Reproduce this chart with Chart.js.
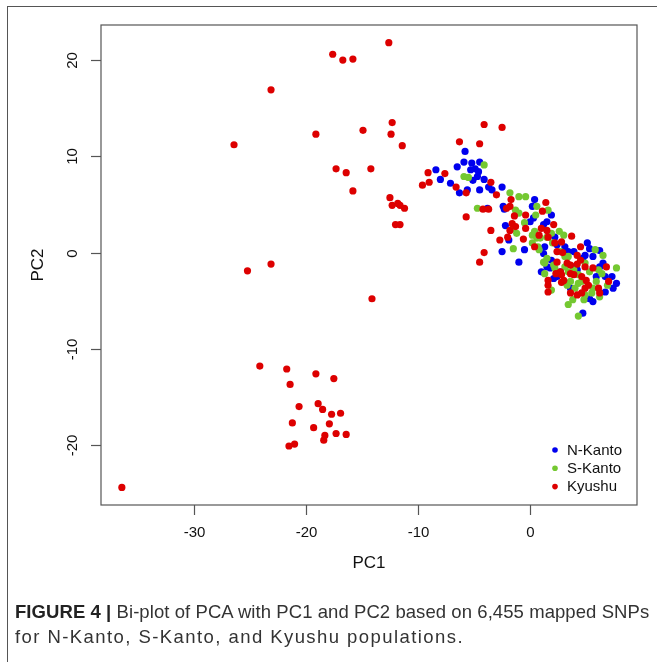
<!DOCTYPE html>
<html>
<head>
<meta charset="utf-8">
<script src="https://cdn.jsdelivr.net/npm/chart.js@4.4.1/dist/chart.umd.min.js"></script>
<style>
  html, body { margin: 0; padding: 0; background: #fff; }
  #wrap { position: relative; width: 657px; height: 662px; overflow: hidden; }
  #c { position: absolute; left: 0; top: 0; }
  #frame { position: absolute; left: 7px; top: 6px; width: 700px; height: 700px;
           border-top: 1.5px solid #555; border-left: 1.5px solid #555; box-sizing: border-box; }
  .cap { position: absolute; left: 15px; font-family: "Liberation Sans", Arial, sans-serif;
         font-size: 18.5px; color: #333; white-space: nowrap; }
  .cap b { color: #222; }
</style>
</head>
<body>
<div id="wrap">
  <canvas id="c" width="657" height="662"></canvas>
  <div id="frame"></div>
  <div class="cap" id="cap1" style="top:601px;"><b>FIGURE 4 |</b> Bi-plot of PCA with PC1 and PC2 based on 6,455 mapped SNPs</div>
  <div class="cap" id="cap2" style="top:626px;">for N-Kanto, S-Kanto, and Kyushu populations.</div>
</div>
<script>
// ---------------- data ----------------
const seriesNames = ["N-Kanto", "S-Kanto", "Kyushu"];
const xTicks = [-30, -20, -10, 0];
const yTicks = [-20, -10, 0, 10, 20];
const xLabel = "PC1";
const yLabel = "PC2";

const nKantoX = [-5.8,-5.9,-5.2,-4.5,-4.9,-4.6,-5.3,-4.7,-5.1,-6.5,-8.4,-8.0,-7.1,-6.3,-5.6,-4.1,-4.5,-3.7,-3.4,-2.5,-2.4,-2.3,-3.8,0.4,0.2,1.9,-2.2,-1.9,-2.5,-1.0,-0.5,0.3,0.0,1.2,1.5,1.3,1.2,2.2,2.4,3.1,3.4,1.0,1.8,2.1,3.9,4.9,4.7,5.1,5.3,5.6,6.2,6.5,6.2,6.7,7.3,7.7,7.4,6.7,5.6,5.3,4.7,3.3,3.6,2.4,2.7,3.9,4.2,5.9,1.9,1.5];
const nKantoY = [10.5,9.4,9.3,9.4,8.7,8.4,8.6,7.9,7.5,8.9,8.6,7.6,7.2,6.2,6.5,7.6,6.5,6.8,6.5,6.8,4.8,4.5,4.6,5.5,4.8,3.9,2.8,1.3,0.1,-1.0,0.3,3.6,3.2,2.9,3.2,0.6,-0.1,1.6,0.8,0.6,0.1,-2.0,-1.6,-2.7,0.1,-0.3,-0.6,1.0,0.4,-0.4,0.2,-1.1,-1.5,-2.5,-2.5,-3.2,-3.7,-4.1,-5.1,-4.8,-6.3,-3.2,-3.7,-2.5,-2.0,-1.5,-1.8,-2.5,-0.8,-1.5];

const sKantoX = [-4.1,-5.9,-5.5,-1.8,-0.4,-4.7,0.6,-1.3,-1.0,1.6,0.5,-0.5,-1.5,-1.2,-1.5,0.2,0.4,0.9,1.5,1.9,2.6,3.0,0.8,2.0,1.5,1.2,1.3,1.3,2.1,2.2,3.1,3.4,3.1,3.4,3.9,4.3,4.3,4.6,3.3,3.6,4.0,4.9,5.5,5.6,5.8,6.5,6.1,6.4,6.9,6.2,7.7,3.8,3.4,4.8,4.3,1.9,2.7,4.9,5.3,5.9,0.6,0.7,0.2,-1.0];
const sKantoY = [9.1,7.9,7.8,6.2,5.8,4.6,4.8,4.4,4.1,4.4,3.9,3.1,2.5,2.0,0.4,1.8,2.2,1.5,1.6,2.0,2.2,1.8,0.3,1.0,-0.6,-1.0,-1.1,-2.2,-1.3,-1.6,-0.4,-0.4,-1.5,-2.0,-1.8,-2.3,-3.2,-3.0,-3.4,-3.0,-3.7,-4.4,-4.2,-3.7,0.3,-0.3,-1.8,-2.2,-3.4,-4.6,-1.6,-4.9,-5.4,-4.9,-6.6,-3.9,0.1,-1.1,-2.0,-3.0,1.5,0.6,1.0,5.8];

const kyushuX = [-12.6,-17.6,-16.7,-15.8,-23.1,-26.4,-19.1,-14.9,-12.3,-12.4,-11.4,-17.3,-16.4,-14.2,-15.8,-12.5,-12.3,-11.8,-11.6,-11.2,-12.0,-11.6,-25.2,-23.1,-14.1,-24.1,-21.7,-19.1,-21.4,-17.5,-20.6,-18.9,-18.5,-17.7,-16.9,-21.2,-17.9,-19.3,-17.3,-18.3,-16.4,-18.4,-21.0,-21.5,-36.4,-4.1,-2.5,-6.3,-4.5,-9.1,-7.6,-9.6,-9.0,-6.6,-5.7,-3.5,-3.0,-4.2,-3.7,-5.7,-3.5,-2.7,-4.1,-4.5,-1.7,-2.1,-1.8,-1.4,-0.4,1.4,1.1,-1.6,-1.3,-1.8,-0.4,-2.0,-0.6,0.4,0.8,1.5,1.6,2.1,1.0,2.8,2.2,3.7,4.5,2.4,2.9,2.4,3.3,3.6,4.2,4.9,2.7,3.6,3.9,4.6,5.0,3.0,2.8,1.6,1.6,1.6,3.6,4.2,4.6,4.9,5.2,6.1,6.2,5.6,6.8,7.0,4.5,4.2,2.3,2.8];
const kyushuY = [21.8,20.6,20.0,20.1,16.9,11.2,12.3,12.7,13.5,12.3,11.1,8.7,8.3,8.7,6.4,5.7,4.9,5.1,4.9,4.6,2.9,2.9,-1.9,-1.2,-4.8,-11.8,-12.1,-12.6,-13.7,-13.1,-16.0,-15.7,-16.3,-16.8,-16.7,-17.7,-17.8,-18.2,-18.8,-19.0,-18.9,-19.5,-19.9,-20.1,-24.4,13.3,13.0,11.5,11.3,8.3,8.2,7.0,7.3,6.8,6.2,7.3,6.0,4.5,4.5,3.7,2.3,1.3,0.0,-1.0,5.5,4.6,4.8,3.8,3.9,5.2,4.3,3.0,2.7,2.3,2.5,1.6,1.4,0.6,1.8,2.3,1.6,2.9,2.5,1.1,1.0,1.7,0.6,0.1,0.0,-1.0,-1.1,-1.3,-1.2,-1.5,-2.0,-2.2,-2.3,-2.5,-2.9,-2.9,-3.1,-2.9,-3.4,-4.1,-4.2,-4.4,-4.2,-3.7,-3.4,-3.7,-4.2,-1.6,-1.5,-3.0,-0.8,-0.3,-2.2,-2.3];

const colors = ["#0000EE", "#74C831", "#DD0000"];
// --------------------------------------

// fit caption lines to the widths seen in the reference
[["cap1", 634], ["cap2", 449]].forEach(([id, w]) => {
  const el = document.getElementById(id);
  const n = el.textContent.length;
  const nat = el.getBoundingClientRect().width;
  el.style.letterSpacing = ((w - nat) / n).toFixed(2) + "px";
});

const toPts = (xs, ys) => xs.map((x, i) => ({x: x, y: ys[i]}));

const FONT = '"Liberation Sans", Arial, sans-serif';
const rPlugin = {
  id: 'rstyle',
  afterDatasetsDraw(chart) {
    const ctx = chart.ctx;
    const a = chart.chartArea;
    const xs = chart.scales.x, ys = chart.scales.y;
    ctx.save();
    ctx.strokeStyle = '#555';
    ctx.lineWidth = 1.2;
    ctx.strokeRect(a.left, a.top, a.right - a.left, a.bottom - a.top);
    ctx.fillStyle = '#111';
    ctx.font = '15px ' + FONT;
    ctx.textAlign = 'center';
    ctx.textBaseline = 'middle';
    xTicks.forEach(v => {
      const px = Math.round(xs.getPixelForValue(v)) + 0.5;
      ctx.beginPath(); ctx.moveTo(px, a.bottom); ctx.lineTo(px, a.bottom + 10); ctx.stroke();
      ctx.fillText(String(v), px, a.bottom + 28);
    });
    yTicks.forEach(v => {
      const py = Math.round(ys.getPixelForValue(v)) + 0.5;
      ctx.beginPath(); ctx.moveTo(a.left, py); ctx.lineTo(a.left - 10, py); ctx.stroke();
      ctx.save();
      ctx.translate(a.left - 28, py);
      ctx.rotate(-Math.PI / 2);
      ctx.fillText(String(v), 0, 0);
      ctx.restore();
    });
    ctx.font = '17px ' + FONT;
    ctx.fillText(xLabel, (a.left + a.right) / 2, a.bottom + 58);
    ctx.save();
    ctx.translate(a.left - 63, (a.top + a.bottom) / 2);
    ctx.rotate(-Math.PI / 2);
    ctx.fillText(yLabel, 0, 0);
    ctx.restore();
    ctx.font = '15px ' + FONT;
    ctx.textAlign = 'left';
    const lx = a.right - 82, ly0 = a.bottom - 55, lstep = 18.3;
    seriesNames.forEach((n, i) => {
      const y = ly0 + i * lstep;
      ctx.fillStyle = colors[i];
      ctx.beginPath(); ctx.arc(lx, y, 2.8, 0, Math.PI * 2); ctx.fill();
      ctx.fillStyle = '#111';
      ctx.fillText(n, lx + 12, y + 0.5);
    });
    ctx.restore();
  }
};

new Chart(document.getElementById('c'), {
  type: 'scatter',
  data: {
    datasets: [
      {label: seriesNames[0], data: toPts(nKantoX, nKantoY), backgroundColor: colors[0], borderWidth: 0, pointRadius: 3.6, order: 3},
      {label: seriesNames[1], data: toPts(sKantoX, sKantoY), backgroundColor: colors[1], borderWidth: 0, pointRadius: 3.6, order: 2},
      {label: seriesNames[2], data: toPts(kyushuX, kyushuY), backgroundColor: colors[2], borderWidth: 0, pointRadius: 3.6, order: 1}
    ]
  },
  options: {
    responsive: false,
    animation: false,
    devicePixelRatio: 1,
    layout: {padding: {left: 101, top: 25, right: 20, bottom: 157}},
    plugins: {legend: {display: false}, tooltip: {enabled: false}},
    scales: {
      x: {type: 'linear', display: false, min: -38.26, max: 9.53},
      y: {type: 'linear', display: false, min: -26.23, max: 23.64}
    }
  },
  plugins: [rPlugin]
});
</script>
</body>
</html>
